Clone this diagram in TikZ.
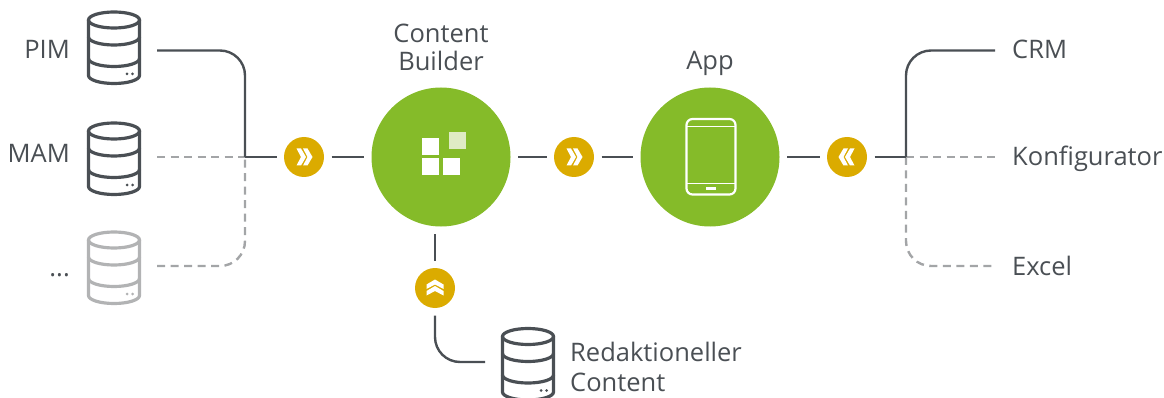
\documentclass[tikz,border=0pt]{standalone}
\usepackage{fontspec}
\setmainfont{Open Sans}
\definecolor{ink}{HTML}{4A4F54}
\definecolor{dashgrey}{HTML}{A3A5A7}
\definecolor{faint}{HTML}{B2B3B4}
\definecolor{gold}{HTML}{DBAB00}
\definecolor{leaf}{HTML}{85BB29}
\definecolor{paleleaf}{HTML}{DFEBC4}
\tikzset{
  x=1pt,y=-1pt,
  lab/.style={font=\fontsize{25.5}{30}\selectfont,text=ink,inner sep=0pt,align=center},
  big/.style={circle,fill=leaf,minimum size=139pt,inner sep=0pt,outer sep=7.5pt},
  badge/.style={circle,fill=gold,minimum size=40pt,inner sep=0pt,outer sep=7.5pt},
  anchorbox/.style={inner sep=0pt,minimum width=54pt,minimum height=74pt,outer xsep=16pt},
  solidline/.style={draw=ink,line width=2.4pt,rounded corners=25pt},
  dashline/.style={draw=dashgrey,line width=2.4pt,dash pattern=on 8pt off 5.5pt,rounded corners=25pt},
  pics/dbicon/.style={code={
    \draw[draw=#1,line width=3.2pt] (0,-28) ellipse [x radius=25.5,y radius=8];
    \draw[draw=#1,line width=3.2pt,line join=round]
      (-25.5,-28) -- (-25.5,27.5) arc[start angle=180,end angle=0,x radius=25.5,y radius=8] -- (25.5,-28);
    \draw[draw=#1,line width=3.2pt] (-25.5,-11) arc[start angle=180,end angle=0,x radius=25.5,y radius=8];
    \draw[draw=#1,line width=3.2pt] (-25.5,10.5) arc[start angle=180,end angle=0,x radius=25.5,y radius=8];
    \fill[#1] (13,26) circle[radius=1.5] (18.5,26) circle[radius=1.5];
  }},
  pics/chevs/.style={code={
    \foreach \d in {0,6.5}
      \fill[white] (-7.5+\d,-8.5) -- (-3+\d,-8.5) -- (2+\d,0) -- (-3+\d,8.5) -- (-7.5+\d,8.5) -- (-3+\d,0) -- cycle;
  }}
}
\begin{document}
\begin{tikzpicture}
\useasboundingbox (0,0) rectangle (1164,398);
% database anchors
\node[anchorbox] (pim) at (114,50.5) {};
\node[anchorbox] (mam) at (114,157) {};
\node[anchorbox] (more) at (114,266) {};
\node[anchorbox] (red) at (528,362) {};
\pic at (114,48) {dbicon=ink};
\pic at (114,159) {dbicon=ink};
\pic at (114,268) {dbicon=faint};
\pic at (528,364.5) {dbicon=ink};
% hubs
\node[big] (cb) at (441,157) {};
\node[big] (app) at (710,157) {};
\node[badge] (g1) at (304,157) {};
\node[badge] (g2) at (574,157) {};
\node[badge] (g3) at (847,157) {};
\node[badge] (g4) at (435,288) {};
\pic at (g1) {chevs};
\pic at (g2) {chevs};
\pic[rotate=180] at (g3) {chevs};
\pic[rotate=90] at (g4) {chevs};
% free ends and junctions
\coordinate (jl) at (245,157);
\coordinate (jr) at (906,157);
\coordinate (crmend) at (995,50.5);
\coordinate (konfend) at (995,157);
\coordinate (excelend) at (995,266);
% dashed connectors
\draw[dashline] (mam.east) -- (jl);
\draw[dashline] (more.east) -- (jl |- more.east) -- (jl);
\draw[dashline] (jr) -- (konfend);
\draw[dashline] (jr) -- (jr |- excelend) -- (excelend);
% solid connectors
\draw[solidline] (pim.east) -- (jl |- pim.east) -- (jl);
\draw[solidline] (jl) -- (g1.west);
\draw[solidline] (g1.east) -- (cb.west);
\draw[solidline] (cb.east) -- (g2.west);
\draw[solidline] (g2.east) -- (app.west);
\draw[solidline] (app.east) -- (g3.west);
\draw[solidline] (g3.east) -- (jr);
\draw[solidline] (jr) -- (jr |- crmend) -- (crmend);
\draw[solidline] (g4.north) -- (g4.north |- cb.south);
\draw[solidline] (g4.south) -- (g4.south |- red.west) -- (red.west);
% content builder icon
\fill[white] (422,138) rectangle (439,155);
\fill[white] (422,158) rectangle (439,175);
\fill[white] (443,158) rectangle (460,175);
\fill[paleleaf] (449,132) rectangle (466,149);
% tablet icon
\draw[white,line width=2.2pt,rounded corners=6pt] (686.5,119) rectangle (735.5,194.5);
\draw[white,line width=1.6pt] (686.5,126.5) -- (735.5,126.5) (686.5,183.5) -- (735.5,183.5);
\fill[white] (706,187.5) rectangle (716,190.5);
% labels
\node[lab,anchor=base east] (tpim) at (70,58.5) {PIM};
\node[lab,anchor=base east] (tmam) at (70,163) {MAM};
\node[lab,anchor=base east] (tmore) at (70,276) {...};
\node[lab,anchor=base] (tcb1) at (441,43) {Content};
\node[lab,anchor=base] (tcb2) at (441,71) {Builder};
\node[lab,anchor=base] (tapp) at (710,70) {App};
\node[lab,anchor=base west] (tcrm) at (1012,59) {CRM};
\node[lab,anchor=base west] (tkonf) at (1012,166) {Konfigurator};
\node[lab,anchor=base west] (texcel) at (1012,275) {Excel};
\node[lab,anchor=base west] (tred1) at (570,361) {Redaktioneller};
\node[lab,anchor=base west] (tred2) at (570,391) {Content};
\end{tikzpicture}
\end{document}
